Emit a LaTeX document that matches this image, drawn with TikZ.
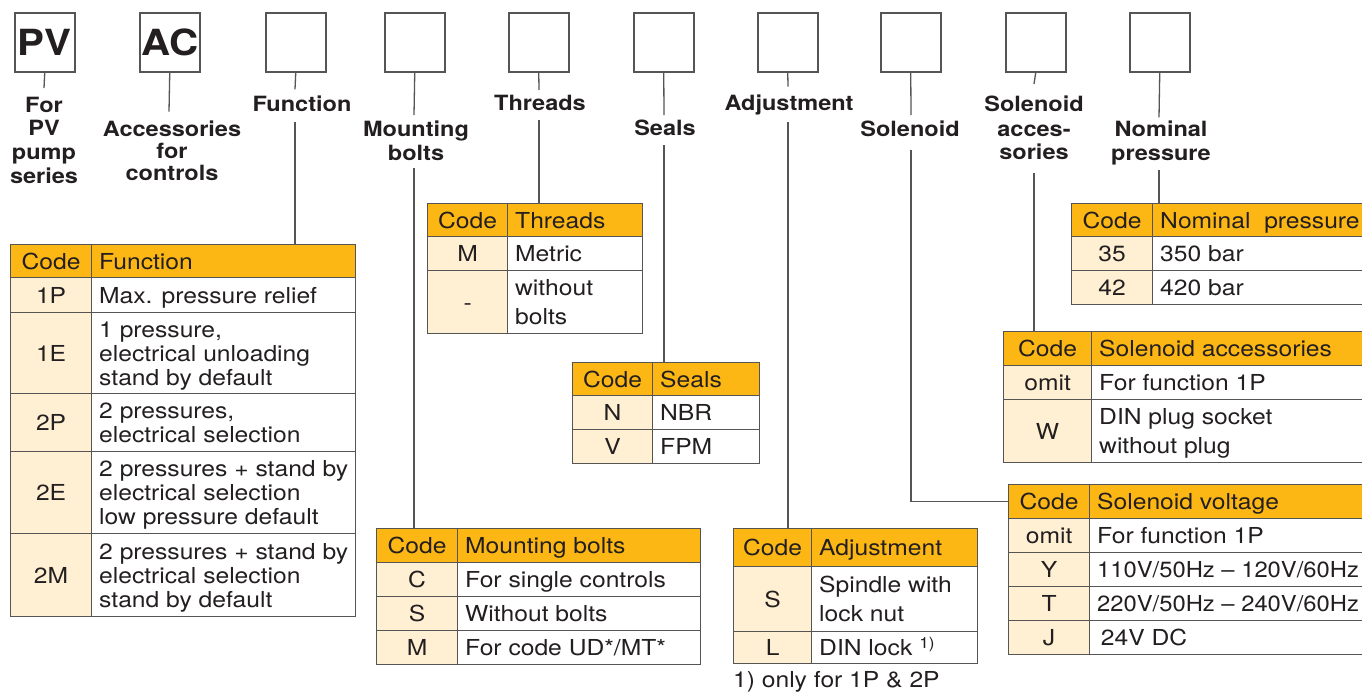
\documentclass[tikz,border=0pt]{standalone}
\usepackage{graphicx}
\usepackage{fontspec}
\setmainfont{TeX Gyre Heros}[FakeStretch=1.12]
\definecolor{hdr}{HTML}{FDB714}
\definecolor{cream}{HTML}{FFF0D3}
\definecolor{bord}{HTML}{555555}
\definecolor{ink}{HTML}{231F20}
\tikzset{
  cell/.style={draw=bord, line width=1.2pt, inner sep=0pt, anchor=north west, rectangle},
  hcell/.style={cell, fill=hdr},
  ccell/.style={cell, fill=cream},
  dcell/.style={cell, fill=white},
  ttext/.style={inner sep=0pt, text=ink, font=\fontsize{22}{24}\selectfont, align=left},
  lbl/.style={inner sep=0pt, anchor=base, text=ink, font=\bfseries\fontsize{21}{24}\selectfont},
  codebox/.style={draw=bord, line width=1.5pt, minimum width=60pt, minimum height=59pt,
    inner sep=0pt, anchor=north west, text=ink, font=\bfseries\fontsize{36}{36}\selectfont},
  conn/.style={draw=bord, line width=1.3pt},
}
\newcommand\tabhead[7]{%
  \node[hcell, minimum width={#3-#2}, minimum height={#6-#5}] (#1c) at (#2,#5) {};
  \node[hcell, minimum width={#4-#3}, minimum height={#6-#5}] (#1d) at (#3,#5) {};
  \node[ttext] (#1k) at (#1c.center) {\rule{0pt}{21pt}Code\rule[-5pt]{0pt}{5pt}};
  \node[ttext, anchor=west] (#1t) at ([xshift=8pt]#1d.west) {\rule{0pt}{21pt}#7\rule[-5pt]{0pt}{5pt}};
}
\newcommand\tabrow[8]{%
  \node[ccell, minimum width={#3-#2}, minimum height={#6-#5}] (#1c) at (#2,#5) {};
  \node[dcell, minimum width={#4-#3}, minimum height={#6-#5}] (#1d) at (#3,#5) {};
  \node[ttext] (#1k) at (#1c.center) {\rule{0pt}{21pt}#7\rule[-5pt]{0pt}{5pt}};
  \node[ttext, anchor=west] (#1t) at ([xshift=8pt]#1d.west) {\rule{0pt}{21pt}#8\rule[-5pt]{0pt}{5pt}};
}
\begin{document}
\begin{tikzpicture}[x=1pt,y=-1pt]
\useasboundingbox (0,0) rectangle (1362,691);
\clip (0,0) rectangle (1362,691);
\fill[white] (0,0) rectangle (1362,691);

% top code boxes
\node[codebox] (b1) at (14,12) {PV};
\node[codebox] (b2) at (139,12) {AC};
\node[codebox] (b3) at (265,12) {};
\node[codebox] (b4) at (384,12) {};
\node[codebox] (b5) at (508,12) {};
\node[codebox] (b6) at (633,12) {};
\node[codebox] (b7) at (757,12) {};
\node[codebox] (b8) at (880,12) {};
\node[codebox] (b9) at (1005,12) {};
\node[codebox] (b10) at (1129,12) {};

% labels
\node[lbl] (l1a) at (44,112) {For};
\node[lbl] (l1b) at (44,135.8) {PV};
\node[lbl] (l1c) at (44,159.6) {pump};
\node[lbl] (l1d) at (44,183.4) {series};
\node[lbl] (l2a) at (172,136) {Accessories};
\node[lbl] (l2b) at (172,158.3) {for};
\node[lbl] (l2c) at (172,180.6) {controls};
\node[lbl] (l3) at (302,111.7) {Function};
\node[lbl] (l4a) at (416,136) {Mounting};
\node[lbl] (l4b) at (416,160) {bolts};
\node[lbl] (l5) at (540,110.7) {Threads};
\node[lbl] (l6) at (665,135) {Seals};
\node[lbl] (l7) at (789,110.7) {Adjustment};
\node[lbl] (l8) at (910,136) {Solenoid};
\node[lbl] (l9a) at (1034,111.7) {Solenoid};
\node[lbl] (l9b) at (1034,136.7) {acces-};
\node[lbl] (l9c) at (1034,159.3) {sories};
\node[lbl] (l10a) at (1161,136.7) {Nominal};
\node[lbl] (l10b) at (1161,160.5) {pressure};

% tables
\tabhead{fnh}{10}{91}{355}{244}{277}{Function}
\tabrow{fna}{10}{91}{355}{277}{312}{1P}{Max. pressure relief}
\tabrow{fnb}{10}{91}{355}{312}{393}{1E}{1 pressure,\\electrical unloading\\stand by default}
\tabrow{fnc}{10}{91}{355}{393}{451}{2P}{2 pressures,\\electrical selection}
\tabrow{fnd}{10}{91}{355}{451}{533}{2E}{2 pressures + stand by\\electrical selection\\low pressure default}
\tabrow{fne}{10}{91}{355}{533}{616}{2M}{2 pressures + stand by\\electrical selection\\stand by default}

\tabhead{thh}{427}{507}{642}{203}{236}{Threads}
\tabrow{tha}{427}{507}{642}{236}{270}{M}{Metric}
\tabrow{thb}{427}{507}{642}{270}{333}{-}{without\\[5pt]bolts}

\tabhead{seh}{572}{652}{759}{362}{395}{Seals}
\tabrow{sea}{572}{652}{759}{395}{429}{N}{NBR}
\tabrow{seb}{572}{652}{759}{429}{463}{V}{FPM}

\tabhead{mbh}{376}{457}{700}{528}{562}{Mounting bolts}
\tabrow{mba}{376}{457}{700}{562}{596}{C}{For single controls}
\tabrow{mbb}{376}{457}{700}{596}{630}{S}{Without bolts}
\tabrow{mbc}{376}{457}{700}{630}{664}{M}{For code UD*/MT*}

\tabhead{adh}{733}{811}{977}{528}{566}{Adjustment}
\tabrow{ada}{733}{811}{977}{566}{631}{S}{Spindle with\\[5pt]lock nut}
\tabrow{adb}{733}{811}{977}{631}{663}{L}{DIN lock \textsuperscript{1)}}
\node[ttext, anchor=base west] (fnote) at (733,687) {1) only for 1P \& 2P};

\tabhead{nph}{1071}{1152}{1380}{203}{236}{Nominal\ \ pressure}
\tabrow{npa}{1071}{1152}{1380}{236}{270}{35}{350 bar}
\tabrow{npb}{1071}{1152}{1380}{270}{304}{42}{420 bar}

\tabhead{sah}{1003}{1091}{1380}{331}{365}{Solenoid accessories}
\tabrow{saa}{1003}{1091}{1380}{365}{399}{omit}{For function 1P}
\tabrow{sab}{1003}{1091}{1380}{399}{462}{W}{DIN plug socket\\[5pt]without plug}

\tabhead{svh}{1008}{1089}{1380}{484}{518}{Solenoid voltage}
\tabrow{sva}{1008}{1089}{1380}{518}{552}{omit}{For function 1P}
\tabrow{svb}{1008}{1089}{1380}{552}{586}{Y}{\scalebox{0.965}[1]{110V/50Hz – 120V/60Hz}}
\tabrow{svc}{1008}{1089}{1380}{586}{620}{T}{\scalebox{0.965}[1]{220V/50Hz – 240V/60Hz}}
\tabrow{svd}{1008}{1089}{1380}{620}{654}{J}{\,24V DC}

% connector gap coordinates
\coordinate (g1) at (44,88);
\coordinate (g2) at (169,111.7);
\coordinate (g3a) at (295,89.3);
\coordinate (g3b) at (295,121.7);
\coordinate (g4a) at (414,115);
\coordinate (g4b) at (414,168.3);
\coordinate (g5a) at (539,90);
\coordinate (g5b) at (539,120);
\coordinate (g6a) at (664,115);
\coordinate (g6b) at (664,145);
\coordinate (g7a) at (788,86.7);
\coordinate (g7b) at (788,121.7);
\coordinate (g8a) at (911,115);
\coordinate (g8b) at (911,150);
\coordinate (g9a) at (1034,84);
\coordinate (g9b) at (1034,172.7);
\coordinate (g10a) at (1159,117.3);
\coordinate (g10b) at (1159,170);

% connectors
\draw[conn] (b1.south) -- (g1);
\draw[conn] (b2.south) -- (g2);
\draw[conn] (b3.south) -- (g3a);
\draw[conn] (g3b) -- (g3b |- fnhd.north);
\draw[conn] (b4.south) -- (g4a);
\draw[conn] (g4b) -- (g4b |- mbhc.north);
\draw[conn] (b5.south) -- (g5a);
\draw[conn] (g5b) -- (g5b |- thhc.north);
\draw[conn] (b6.south) -- (g6a);
\draw[conn] (g6b) -- (g6b |- sehd.north);
\draw[conn] (b7.south) -- (g7a);
\draw[conn] (g7b) -- (g7b |- adhd.north);
\draw[conn] (b8.south) -- (g8a);
\draw[conn] (g8b) |- (svhc.west);
\draw[conn] (b9.south) -- (g9a);
\draw[conn] (g9b) -- (g9b |- sahc.north);
\draw[conn] (b10.south) -- (g10a);
\draw[conn] (g10b) -- (g10b |- nphd.north);
\end{tikzpicture}
\end{document}
